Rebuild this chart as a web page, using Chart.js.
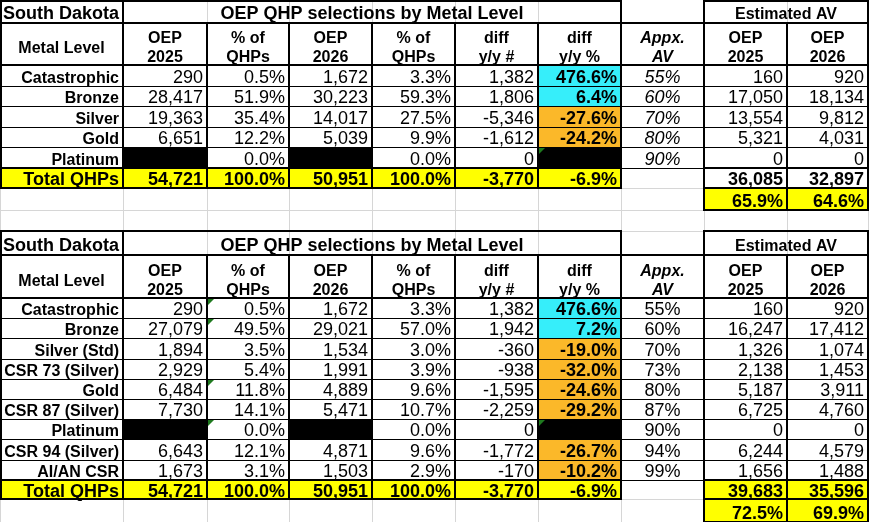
<!DOCTYPE html>
<html>
<head>
<meta charset="utf-8">
<script src="https://cdn.jsdelivr.net/npm/chart.js@4.4.1/dist/chart.umd.min.js"></script>
<style>
  html, body { margin: 0; padding: 0; background: #fff; }
  #contenedor { width: 871px; height: 522px; }
</style>
</head>
<body>
<div id="contenedor"><canvas id="hoja"></canvas></div>
<script>
// Textos comunes de las dos tablas
const estado = "South Dakota";
const tituloTabla = "OEP QHP selections by Metal Level";
const tituloAV = "Estimated AV";
const encabezados = [["Metal Level"], ["OEP", "2025"], ["% of", "QHPs"], ["OEP", "2026"], ["% of", "QHPs"],
    ["diff", "y/y #"], ["diff", "y/y %"], ["Appx.", "AV"], ["OEP", "2025"], ["OEP", "2026"]];
const etiquetaTotal = "Total QHPs";

// Tabla 1: niveles metálicos simples
const niveles1 = ["Catastrophic", "Bronze", "Silver", "Gold", "Platinum"];
const oep2025_1 = [290, 28417, 19363, 6651, null];
const pct2025_1 = [0.5, 51.9, 35.4, 12.2, 0.0];
const oep2026_1 = [1672, 30223, 14017, 5039, null];
const pct2026_1 = [3.3, 59.3, 27.5, 9.9, 0.0];
const difNum1 = [1382, 1806, -5346, -1612, 0];
const difPct1 = [476.6, 6.4, -27.6, -24.2, null];
const avAprox1 = [55, 60, 70, 80, 90];
const avEst2025_1 = [160, 17050, 13554, 5321, 0];
const avEst2026_1 = [920, 18134, 9812, 4031, 0];
const totales1 = [54721, 100.0, 50951, 100.0, -3770, -6.9];
const totalesAV1 = [36085, 32897];
const pctAV1 = [65.9, 64.6];

// Tabla 2: con desglose de CSR
const niveles2 = ["Catastrophic", "Bronze", "Silver (Std)", "CSR 73 (Silver)", "Gold", "CSR 87 (Silver)", "Platinum", "CSR 94 (Silver)", "AI/AN CSR"];
const oep2025_2 = [290, 27079, 1894, 2929, 6484, 7730, null, 6643, 1673];
const pct2025_2 = [0.5, 49.5, 3.5, 5.4, 11.8, 14.1, 0.0, 12.1, 3.1];
const oep2026_2 = [1672, 29021, 1534, 1991, 4889, 5471, null, 4871, 1503];
const pct2026_2 = [3.3, 57.0, 3.0, 3.9, 9.6, 10.7, 0.0, 9.6, 2.9];
const difNum2 = [1382, 1942, -360, -938, -1595, -2259, 0, -1772, -170];
const difPct2 = [476.6, 7.2, -19.0, -32.0, -24.6, -29.2, null, -26.7, -10.2];
const avAprox2 = [55, 60, 70, 73, 80, 87, 90, 94, 99];
const avEst2025_2 = [160, 16247, 1326, 2138, 5187, 6725, 0, 6244, 1656];
const avEst2026_2 = [920, 17412, 1074, 1453, 3911, 4760, 0, 4579, 1488];
const totales2 = [54721, 100.0, 50951, 100.0, -3770, -6.9];
const totalesAV2 = [39683, 35596];
const pctAV2 = [72.5, 69.9];

// Diseño de la hoja (bordes de columnas en px, colores, fuente)
const bordesCol = [0, 123, 207, 289, 372, 455, 538, 621, 704, 787, 868];
const FUENTE = '"Liberation Sans", Arial, sans-serif';
const colores = {
    cian: "#36eefa",
    naranja: "#fbb829",
    amarillo: "#ffff00",
    negro: "#000000",
    rejilla: "#d6d6d6",
    marca: "#1f7a1f"
};

function fmtNum(v) { return v.toLocaleString("en-US"); }
function fmtPct(v) { return v.toFixed(1) + "%"; }

function celdaNum(c, v, fuente) {
    if (v === null) return { c0: c, c1: c + 1, relleno: colores.negro, borde: true };
    return { c0: c, c1: c + 1, texto: fmtNum(v), fuente: fuente || "18px", alinear: "right", borde: true };
}
function celdaPct(c, v, fuente, relleno) {
    if (v === null) return { c0: c, c1: c + 1, relleno: colores.negro, borde: true, marca: true };
    return { c0: c, c1: c + 1, texto: fmtPct(v), fuente: fuente || "18px", alinear: "right", borde: true, relleno };
}

// Construye las filas de una tabla a partir de sus arreglos
function armarTabla(t, y, alto) {
    const filas = [];
    const agregar = (h, tipo, celdas) => { filas.push({ y0: y, y1: y + h, tipo, celdas }); y += h; };

    agregar(alto.titulo, "titulo", [
        { c0: 0, c1: 1, texto: estado, fuente: "bold 18px", alinear: "left", borde: true },
        { c0: 1, c1: 7, texto: tituloTabla, fuente: "bold 18px", alinear: "center", borde: true },
        { c0: 8, c1: 10, texto: tituloAV, fuente: "bold 16px", alinear: "center", borde: true }
    ]);

    agregar(alto.encabezado, "encabezado", encabezados.map((lineas, c) => ({
        c0: c, c1: c + 1, lineas, fuente: c === 7 ? "italic bold 16px" : "bold 16px", alinear: "center", borde: true
    })));

    t.niveles.forEach((nivel, i) => {
        const pct = t.difPct[i];
        const c2 = celdaPct(2, t.pct2025[i]);
        if (t.marcasC.includes(i)) c2.marca = true;
        agregar(alto.dato, "dato", [
            { c0: 0, c1: 1, texto: nivel, fuente: "bold 16px", alinear: "right", borde: true },
            celdaNum(1, t.oep2025[i]),
            c2,
            celdaNum(3, t.oep2026[i]),
            celdaPct(4, t.pct2026[i]),
            celdaNum(5, t.difNum[i]),
            celdaPct(6, pct, "bold 18px", pct !== null && pct >= 0 ? colores.cian : colores.naranja),
            { c0: 7, c1: 8, texto: t.avAprox[i] + "%", fuente: t.cursivaAV ? "italic 18px" : "18px", alinear: "center", borde: true },
            celdaNum(8, t.avEst2025[i]),
            celdaNum(9, t.avEst2026[i])
        ]);
    });

    const celdasTotal = [{ c0: 0, c1: 1, texto: etiquetaTotal, fuente: "bold 18px", alinear: "right", borde: true, relleno: colores.amarillo }];
    t.totales.forEach((v, k) => {
        const c = k + 1;
        const esPct = c === 2 || c === 4 || c === 6;
        const celda = esPct ? celdaPct(c, v, "bold 18px") : celdaNum(c, v, "bold 18px");
        celda.relleno = colores.amarillo;
        celdasTotal.push(celda);
    });
    t.totalesAV.forEach((v, k) => {
        const celda = celdaNum(8 + k, v, "bold 18px");
        if (t.totalAmarillo) celda.relleno = colores.amarillo;
        celdasTotal.push(celda);
    });
    agregar(alto.total, "total", celdasTotal);

    agregar(alto.extra, "extra", t.pctAV.map((v, k) => celdaPct(8 + k, v, "bold 18px", colores.amarillo)));
    if (alto.vacia) agregar(alto.vacia, "vacia", []);
    return { filas, y };
}

const tabla1 = armarTabla({
    niveles: niveles1, oep2025: oep2025_1, pct2025: pct2025_1, oep2026: oep2026_1, pct2026: pct2026_1,
    difNum: difNum1, difPct: difPct1, avAprox: avAprox1, avEst2025: avEst2025_1, avEst2026: avEst2026_1,
    totales: totales1, totalesAV: totalesAV1, pctAV: pctAV1, marcasC: [], cursivaAV: true, totalAmarillo: false
}, 0, { titulo: 23, encabezado: 42, dato: 20.5, total: 20.5, extra: 22, vacia: 21 });

const tabla2 = armarTabla({
    niveles: niveles2, oep2025: oep2025_2, pct2025: pct2025_2, oep2026: oep2026_2, pct2026: pct2026_2,
    difNum: difNum2, difPct: difPct2, avAprox: avAprox2, avEst2025: avEst2025_2, avEst2026: avEst2026_2,
    totales: totales2, totalesAV: totalesAV2, pctAV: pctAV2, marcasC: [0, 1, 4, 6], cursivaAV: false, totalAmarillo: true
}, tabla1.y, { titulo: 24, encabezado: 43, dato: 20.2, total: 19.7, extra: 22.5 });

const filas = tabla1.filas.concat(tabla2.filas);

// Plugin que dibuja la hoja usando las escalas del gráfico
const hojaPlugin = {
    id: "hoja",
    afterDraw(chart) {
        const ctx = chart.ctx;
        const px = v => chart.scales.x.getPixelForValue(v);
        const py = v => chart.scales.y.getPixelForValue(v);
        const xFin = px(bordesCol[bordesCol.length - 1]);
        const yFin = py(filas[filas.length - 1].y1);

        ctx.save();

        // Rejilla gris de fondo
        ctx.strokeStyle = colores.rejilla;
        ctx.lineWidth = 1;
        ctx.beginPath();
        bordesCol.forEach(b => { const x = Math.round(px(b)) + 0.5; ctx.moveTo(x, py(0)); ctx.lineTo(x, yFin); });
        filas.forEach(f => { const y = Math.round(py(f.y1)) + 0.5; ctx.moveTo(px(0), y); ctx.lineTo(xFin, y); });
        ctx.stroke();

        // Rellenos
        filas.forEach(f => {
            const y0 = Math.round(py(f.y0)), y1 = Math.round(py(f.y1));
            f.celdas.forEach(c => {
                if (!c.relleno) return;
                const x0 = Math.round(px(bordesCol[c.c0])), x1 = Math.round(px(bordesCol[c.c1]));
                ctx.fillStyle = c.relleno;
                ctx.fillRect(x0, y0, x1 - x0, y1 - y0);
            });
        });

        // Bordes negros (primero finos, luego gruesos)
        const segmentos = [];
        filas.forEach(f => {
            const ancho = f.tipo === "dato" ? 1 : 2;
            f.celdas.forEach(c => {
                if (!c.borde) return;
                const x0 = px(bordesCol[c.c0]), x1 = px(bordesCol[c.c1]);
                const y0 = py(f.y0), y1 = py(f.y1);
                segmentos.push({ v: true, p: x0, a: y0, b: y1, w: 2 });
                segmentos.push({ v: true, p: x1, a: y0, b: y1, w: 2 });
                segmentos.push({ v: false, p: y0, a: x0, b: x1, w: ancho });
                segmentos.push({ v: false, p: y1, a: x0, b: x1, w: ancho });
            });
        });
        segmentos.sort((s, t) => s.w - t.w);
        ctx.strokeStyle = colores.negro;
        segmentos.forEach(s => {
            let p = Math.round(s.p);
            if (s.w === 2 && p < 1) p = 1;
            if (s.w === 1) p += 0.5;
            const a = Math.round(s.a) - (s.v ? 1 : 1), b = Math.round(s.b) + 1;
            ctx.lineWidth = s.w;
            ctx.beginPath();
            if (s.v) { ctx.moveTo(p, a); ctx.lineTo(p, b); } else { ctx.moveTo(a, p); ctx.lineTo(b, p); }
            ctx.stroke();
        });

        // Marcas verdes de Excel
        ctx.fillStyle = colores.marca;
        filas.forEach(f => {
            f.celdas.forEach(c => {
                if (!c.marca) return;
                const x0 = Math.round(px(bordesCol[c.c0])) + 1, y0 = Math.round(py(f.y0)) + 1;
                ctx.beginPath();
                ctx.moveTo(x0, y0); ctx.lineTo(x0 + 6, y0); ctx.lineTo(x0, y0 + 6);
                ctx.closePath();
                ctx.fill();
            });
        });

        // Textos
        ctx.fillStyle = "#000";
        ctx.textBaseline = "alphabetic";
        filas.forEach(f => {
            const y1 = py(f.y1);
            f.celdas.forEach(c => {
                if (!c.texto && !c.lineas) return;
                const x0 = px(bordesCol[c.c0]), x1 = px(bordesCol[c.c1]);
                ctx.font = c.fuente + " " + FUENTE;
                ctx.textAlign = c.alinear;
                const x = c.alinear === "left" ? x0 + 3 : c.alinear === "right" ? x1 - 4 : (x0 + x1) / 2;
                if (c.lineas) {
                    if (c.lineas.length === 2) {
                        ctx.fillText(c.lineas[0], x, y1 - 22);
                        ctx.fillText(c.lineas[1], x, y1 - 3);
                    } else {
                        ctx.fillText(c.lineas[0], x, y1 - 12);
                    }
                } else {
                    ctx.fillText(c.texto, x, y1 - (f.tipo === "titulo" ? 4 : 3));
                }
            });
        });

        ctx.restore();
    }
};

// Crear el gráfico (las escalas van de 0 a 871 x 0 a 522 unidades de hoja)
new Chart(document.getElementById("hoja").getContext("2d"), {
    type: "scatter",
    data: { datasets: [] },
    options: {
        responsive: true,
        maintainAspectRatio: false,
        animation: false,
        layout: { padding: 0 },
        plugins: { legend: { display: false }, tooltip: { enabled: false } },
        scales: {
            x: { type: "linear", min: 0, max: 871, display: false },
            y: { type: "linear", min: 0, max: 522, reverse: true, display: false }
        }
    },
    plugins: [hojaPlugin]
});
</script>
</body>
</html>
